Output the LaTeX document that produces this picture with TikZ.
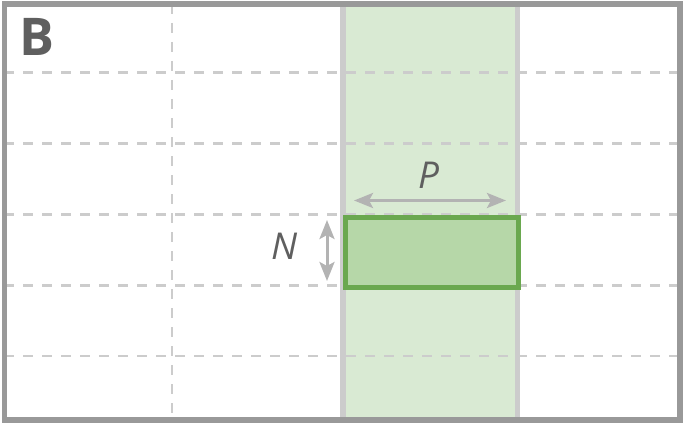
\documentclass[tikz,border=0pt]{standalone}
\usepackage{fontspec}
\setmainfont{Open Sans}
\usetikzlibrary{arrows.meta}
\definecolor{gridgray}{HTML}{CCCCCC}
\definecolor{framegray}{HTML}{999999}
\definecolor{bandgreen}{HTML}{D9EAD3}
\definecolor{rectgreen}{HTML}{B6D7A8}
\definecolor{edgegreen}{HTML}{6AA84F}
\definecolor{arrowgray}{HTML}{B3B3B3}
\definecolor{textgray}{HTML}{5F5F5F}
\tikzset{
  gridline/.style={draw=gridgray, line width=2.6pt, dash pattern=on 10pt off 9pt},
  colline/.style={draw=gridgray, line width=5.5pt},
  dimarrow/.style={draw=arrowgray, line width=3pt, {Stealth[length=19pt,width=15pt,inset=4pt]}-{Stealth[length=19pt,width=15pt,inset=4pt]}},
  lbl/.style={text=textgray, font=\fontsize{37}{37}\selectfont\itshape, inner sep=0pt}
}
\begin{document}
\begin{tikzpicture}[x=1pt,y=-1pt]
\useasboundingbox (0,0) rectangle (684,425);
% band
\fill[bandgreen] (343,4) rectangle (517.5,420);
% grid dashed
\foreach \yy in {72.5,143.5,214.5,285.5,356} {
  \draw[gridline] (4,\yy) -- (680,\yy);
}
\draw[gridline] (172,4) -- (172,420);
% column lines
\draw[colline] (343,4) -- (343,420);
\draw[colline] (517.5,4) -- (517.5,420);
% highlighted block
\node[draw=edgegreen, fill=rectgreen, line width=5pt, minimum width=173pt, minimum height=70pt, inner sep=0pt, anchor=north west] (blk) at (342.5,214.5) {};
% arrows
\coordinate (pa) at (354,200.5);
\coordinate (pb) at (506,200.5);
\draw[dimarrow] (pa) -- (pb);
\coordinate (na) at (327,220);
\coordinate (nb) at (327,281);
\draw[dimarrow] (na) -- (nb);
\node[lbl] (plbl) at (429,175) {P};
\node[lbl] (nlbl) at (285,246) {N};
% label B
\node[text=textgray, font=\fontsize{52}{52}\selectfont\bfseries, inner sep=0pt] (blbl) at (37,37) {B};
% outer frame
\draw[framegray, line width=5.5pt] (4.5,4) rectangle (680,420);
\end{tikzpicture}
\end{document}
